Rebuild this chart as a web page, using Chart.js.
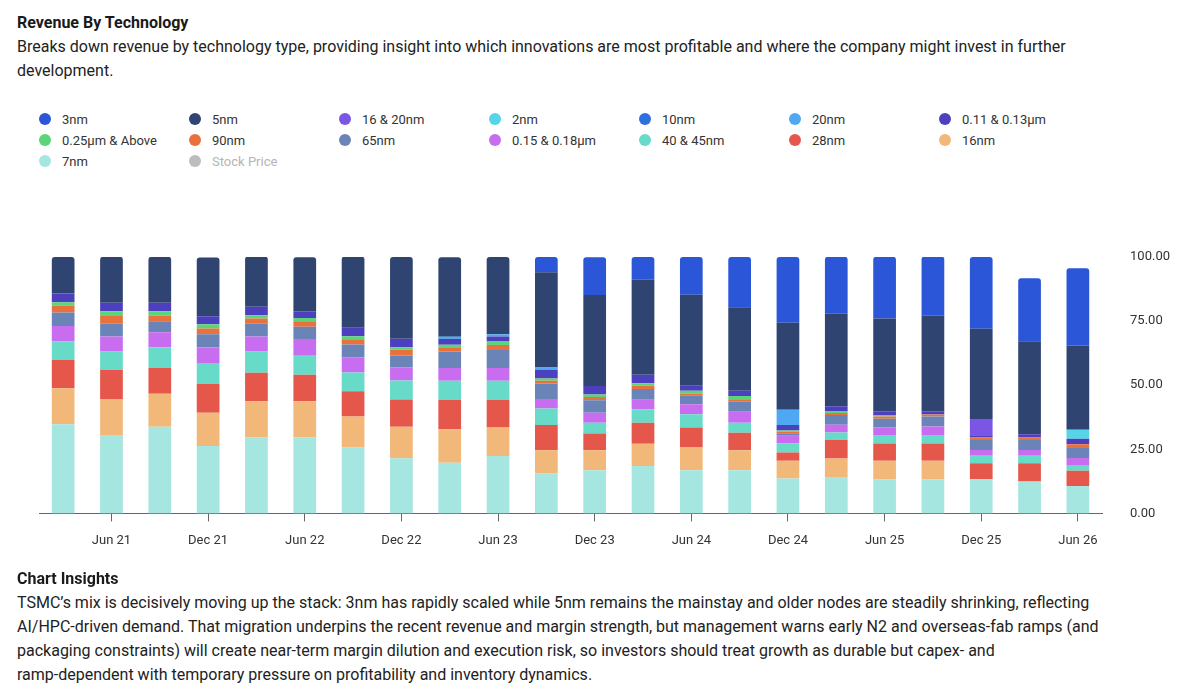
<!DOCTYPE html>
<html>
<head>
<meta charset="utf-8">
<title>Revenue By Technology</title>
<script src="https://cdn.jsdelivr.net/npm/chart.js@4.4.1/dist/chart.umd.min.js"></script>
<style>
    body {
        margin: 0;
        width: 1200px;
        height: 692px;
        background: #fff;
        font-family: Roboto, 'Noto Sans', sans-serif;
        color: #222;
        position: relative;
        overflow: hidden;
    }
    .title, .insights-title {
        position: absolute;
        left: 17px;
        font-weight: 700;
        font-size: 16px;
        line-height: 24px;
        color: #1a1a1a;
    }
    .title { top: 11px; }
    .insights-title { top: 567px; }
    .desc, .insights {
        position: absolute;
        left: 17px;
        font-size: 16px;
        line-height: 24px;
        white-space: nowrap;
    }
    .desc { top: 35px; }
    .insights { top: 591px; }
    .legend-item {
        position: absolute;
        height: 21px;
        line-height: 21px;
        font-size: 13px;
        color: #333;
        white-space: nowrap;
    }
    .legend-item .dot {
        position: absolute;
        left: 0;
        top: 4.5px;
        width: 12px;
        height: 12px;
        border-radius: 50%;
    }
    .legend-item .text {
        position: absolute;
        left: 23px;
    }
    .legend-item.off .text { color: #b5b5b5; }
    #chart-box {
        position: absolute;
        left: 0;
        top: 220px;
        width: 1200px;
        height: 353px;
    }
</style>
</head>
<body>
<div class="title">Revenue By Technology</div>
<div class="desc">Breaks down revenue by technology type, providing insight into which innovations are most profitable and where the company might invest in further<br>development.</div>
<div id="legend"></div>
<div id="chart-box"><canvas id="tech-chart"></canvas></div>
<div class="insights-title">Chart Insights</div>
<div class="insights">TSMC’s mix is decisively moving up the stack: 3nm has rapidly scaled while 5nm remains the mainstay and older nodes are steadily shrinking, reflecting<br>AI/HPC-driven demand. That migration underpins the recent revenue and margin strength, but management warns early N2 and overseas-fab ramps (and<br>packaging constraints) will create near-term margin dilution and execution risk, so investors should treat growth as durable but capex- and<br>ramp-dependent with temporary pressure on profitability and inventory dynamics.</div>

<script>
// Quarter ends, Mar 21 .. Jun 26
const quarters = ['Mar 21', 'Jun 21', 'Sep 21', 'Dec 21', 'Mar 22', 'Jun 22', 'Sep 22', 'Dec 22',
    'Mar 23', 'Jun 23', 'Sep 23', 'Dec 23', 'Mar 24', 'Jun 24', 'Sep 24', 'Dec 24',
    'Mar 25', 'Jun 25', 'Sep 25', 'Dec 25', 'Mar 26', 'Jun 26'];

// Revenue share (%) per node
const nm3 = [0, 0, 0, 0, 0, 0, 0, 0, 0, 0, 5.9, 14.7, 8.9, 14.7, 19.6, 25.6, 22.2, 24.1, 23.1, 28.0, 24.6, 30.1];
const nm5 = [14.2, 17.9, 17.9, 22.9, 19.6, 21.1, 27.8, 31.9, 31.0, 30.1, 37.2, 35.5, 37.0, 35.5, 32.6, 34.0, 36.1, 36.2, 37.3, 35.2, 36.2, 32.9];
const nm16_20 = [0, 0, 0, 0, 0, 0, 0, 0, 0, 0, 0, 0, 0, 0, 0, 0, 0, 0, 0, 6.3, 0, 0];
const nm2 = [0, 0, 0, 0, 0, 0, 0, 0, 0, 0, 0, 0, 0, 0, 0, 0, 0, 0, 0, 0, 0, 3.5];
const nm10 = [0, 0, 0, 0, 0, 0, 0, 0, 0, 0, 0, 0, 0, 0, 0, 0, 0, 0, 0, 0, 0, 0];
const nm20 = [0, 0, 0, 0, 0, 0, 0, 0, 0.9, 0.9, 1.0, 0, 0, 0, 0, 5.9, 0, 0, 0, 0, 0, 0];
const um011_013 = [3.4, 3.4, 3.4, 3.1, 3.3, 2.6, 3.3, 3.3, 2.2, 2.0, 3.3, 3.3, 3.3, 2.0, 2.0, 2.2, 2.1, 1.6, 1.2, 0.9, 1.3, 2.1];
const um025 = [1.4, 1.8, 1.7, 1.7, 1.3, 1.3, 1.2, 1.0, 1.0, 1.3, 0.9, 1.0, 1.0, 1.0, 1.3, 0.5, 0.5, 0.4, 0, 0, 0, 0];
const nm90 = [2.6, 3.0, 2.2, 2.2, 2.0, 2.1, 2.0, 2.2, 1.7, 2.0, 1.0, 1.3, 1.3, 0.9, 1.0, 0.5, 0.8, 0.9, 0.8, 1.0, 1.0, 1.5];
const nm65 = [5.3, 5.0, 4.2, 5.2, 5.0, 4.8, 5.0, 4.6, 6.4, 7.0, 6.1, 4.8, 4.2, 3.3, 3.9, 1.0, 3.8, 3.3, 3.9, 3.9, 3.9, 3.9];
const um015_018 = [6.0, 5.9, 5.9, 6.0, 5.9, 6.5, 5.9, 5.2, 5.0, 5.0, 3.7, 3.9, 3.7, 3.9, 4.2, 3.0, 3.0, 3.0, 3.3, 2.2, 2.2, 3.0];
const nm40_45 = [7.2, 7.2, 8.1, 8.1, 8.2, 7.4, 7.4, 7.4, 7.4, 7.4, 6.4, 4.2, 5.2, 5.2, 3.9, 3.5, 3.0, 3.3, 3.3, 2.9, 2.9, 2.0];
const nm28 = [11.1, 11.3, 10.0, 11.3, 11.2, 10.4, 9.8, 10.6, 11.5, 10.8, 9.9, 6.6, 8.2, 7.8, 6.9, 3.3, 7.2, 6.8, 6.8, 6.3, 7.2, 5.9];
const nm16 = [14.0, 14.0, 12.9, 13.0, 14.1, 14.1, 12.1, 12.3, 13.0, 11.1, 9.0, 7.8, 8.7, 8.9, 7.8, 6.9, 7.2, 7.2, 7.2, 0, 0, 0];
const nm7 = [34.8, 30.6, 33.8, 26.3, 29.6, 29.6, 25.7, 21.5, 19.8, 22.4, 15.6, 16.8, 18.5, 16.8, 16.8, 13.6, 14.2, 13.3, 13.3, 13.3, 12.4, 10.7];

const yTicks = [0, 25, 50, 75, 100];

// bottom of the stack first
const series = [
    ['7nm', nm7, '#a5e6e0'],
    ['16nm', nm16, '#f2b879'],
    ['28nm', nm28, '#e5574b'],
    ['40 & 45nm', nm40_45, '#67dac8'],
    ['0.15 & 0.18\u03bcm', um015_018, '#c86cf0'],
    ['65nm', nm65, '#6b84b8'],
    ['90nm', nm90, '#e8713c'],
    ['0.25\u03bcm & Above', um025, '#5cd47a'],
    ['0.11 & 0.13\u03bcm', um011_013, '#4d40bf'],
    ['20nm', nm20, '#4ea9f2'],
    ['10nm', nm10, '#2e6fe0'],
    ['2nm', nm2, '#56d4e8'],
    ['16 & 20nm', nm16_20, '#7b55e6'],
    ['5nm', nm5, '#2f4471'],
    ['3nm', nm3, '#2b56d8'],
];

const datasets = series.map(s => ({
    label: s[0],
    data: s[1],
    backgroundColor: s[2],
    borderRadius: 3,
    barPercentage: 0.47,
    categoryPercentage: 1.0,
}));

// hidden in the reference, values not shown
datasets.push({
    type: 'line',
    label: 'Stock Price',
    data: [],
    backgroundColor: '#bdbdbd',
    borderColor: '#bdbdbd',
    hidden: true,
});

Chart.defaults.font.family = 'Roboto, "Noto Sans", sans-serif';
Chart.defaults.font.size = 13;
Chart.defaults.color = '#333';

const chart = new Chart(document.getElementById('tech-chart'), {
    type: 'bar',
    data: {
        labels: quarters,
        datasets: datasets,
    },
    options: {
        responsive: true,
        maintainAspectRatio: false,
        animation: false,
        layout: {
            padding: { left: 39, right: 2, top: 37, bottom: 12 }
        },
        plugins: {
            legend: { display: false },
            tooltip: { enabled: false },
        },
        scales: {
            x: {
                stacked: true,
                grid: {
                    display: true,
                    drawOnChartArea: false,
                    drawTicks: true,
                    tickLength: 8,
                    offset: false,
                    color: ctx => ctx.index % 2 === 1 ? '#666' : 'rgba(0,0,0,0)',
                },
                border: { display: true, color: '#666', width: 1 },
                ticks: {
                    autoSkip: false,
                    maxRotation: 0,
                    padding: 12,
                    color: '#333',
                    callback: (val, i) => i % 2 === 1 ? quarters[i] : '',
                },
            },
            y: {
                stacked: true,
                position: 'right',
                min: 0,
                max: 100,
                grid: { display: false, drawTicks: false },
                border: { display: false },
                afterBuildTicks: axis => {
                    axis.ticks = yTicks.map(v => ({ value: v }));
                },
                ticks: {
                    padding: 28,
                    color: '#333',
                    callback: v => v.toFixed(2),
                },
            },
        },
    },
});

// Legend in fixed columns, same order as the reference (top of stack first)
function ShowLegend() {
    const box = document.getElementById('legend');
    const order = [];
    for (let i = series.length - 1; i >= 0; i--) {
        order.push(i);
    }
    order.push(datasets.length - 1);
    for (let k = 0; k < order.length; k++) {
        const i = order[k];
        const ds = chart.data.datasets[i];
        const item = document.createElement('div');
        item.className = 'legend-item';
        if (!chart.isDatasetVisible(i)) {
            item.className += ' off';
        }
        item.style.left = (39 + 150 * (k % 7)) + 'px';
        item.style.top = (108.5 + 21 * Math.floor(k / 7)) + 'px';
        const dot = document.createElement('span');
        dot.className = 'dot';
        dot.style.background = ds.backgroundColor;
        const text = document.createElement('span');
        text.className = 'text';
        text.innerHTML = ds.label;
        item.appendChild(dot);
        item.appendChild(text);
        box.appendChild(item);
    }
}
ShowLegend();
</script>
</body>
</html>
